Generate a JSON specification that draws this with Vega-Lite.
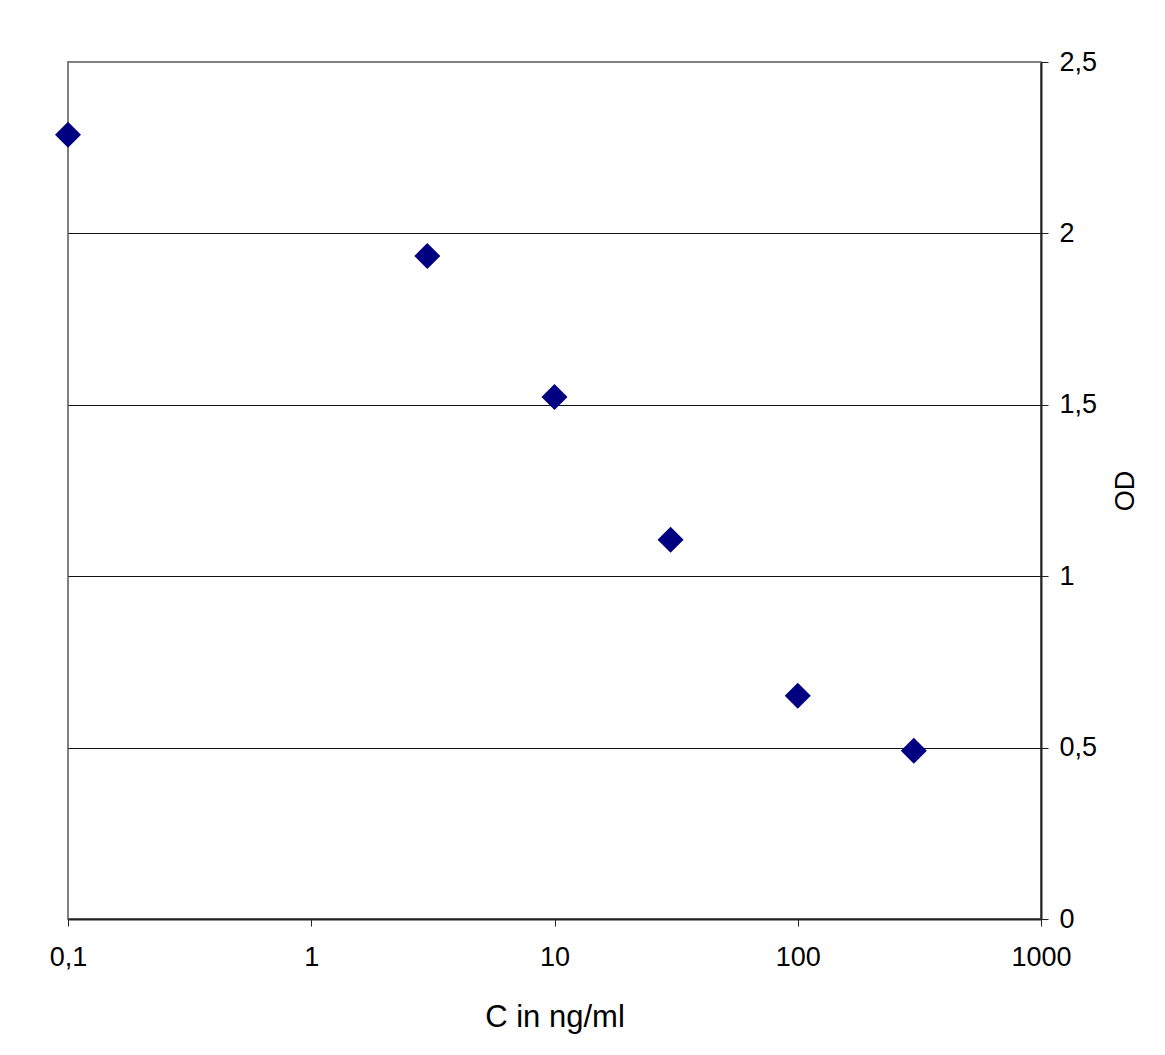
{
  "$schema": "https://vega.github.io/schema/vega-lite/v6.json",
  "autosize": {"type": "none"},
  "padding": {"left": 68, "top": 62, "right": 124, "bottom": 136},
  "width": 973,
  "height": 857,
  "background": "white",
  "config": {
    "view": {"stroke": "#808080", "strokeWidth": 2},
    "font": "Liberation Sans"
  },
  "data": {
    "values": [
      {"C": 0.1, "OD": 2.288},
      {"C": 3, "OD": 1.934},
      {"C": 10, "OD": 1.523},
      {"C": 30, "OD": 1.106},
      {"C": 100, "OD": 0.651},
      {"C": 300, "OD": 0.491}
    ]
  },
  "mark": {"type": "point", "shape": "diamond", "filled": true, "color": "#000080", "opacity": 1, "size": 676, "clip": false},
  "encoding": {
    "x": {
      "field": "C",
      "type": "quantitative",
      "scale": {"type": "log", "domain": [0.1, 1000], "nice": false},
      "axis": {
        "title": "C in ng/ml",
        "values": [0.1, 1, 10, 100, 1000],
        "labelExpr": "replace(toString(datum.value), '.', ',')",
        "labelFlush": false,
        "labelOverlap": false,
        "grid": false,
        "domainColor": "#222222",
        "domainWidth": 2,
        "tickColor": "#222222",
        "tickWidth": 1,
        "tickSize": 7,
        "labelFontSize": 27,
        "labelColor": "#000000",
        "labelPadding": 18,
        "titleFontSize": 31,
        "titleFontWeight": "normal",
        "titleColor": "#000000",
        "titlePadding": 32
      }
    },
    "y": {
      "field": "OD",
      "type": "quantitative",
      "scale": {"domain": [0, 2.5], "nice": false},
      "axis": {
        "orient": "right",
        "title": "OD",
        "values": [0, 0.5, 1, 1.5, 2, 2.5],
        "labelExpr": "replace(toString(datum.value), '.', ',')",
        "labelOverlap": false,
        "grid": true,
        "gridColor": {"condition": {"test": "datum.value == 2.5 || datum.value == 0", "value": "transparent"}, "value": "#111111"},
        "gridWidth": 1,
        "domainColor": "#222222",
        "domainWidth": 2,
        "tickColor": "#222222",
        "tickWidth": 1,
        "tickSize": 7,
        "labelFontSize": 27,
        "labelColor": "#000000",
        "labelPadding": 11,
        "titleFontSize": 27,
        "titleFontWeight": "normal",
        "titleColor": "#000000",
        "titleAngle": -90,
        "titlePadding": 43
      }
    }
  }
}
